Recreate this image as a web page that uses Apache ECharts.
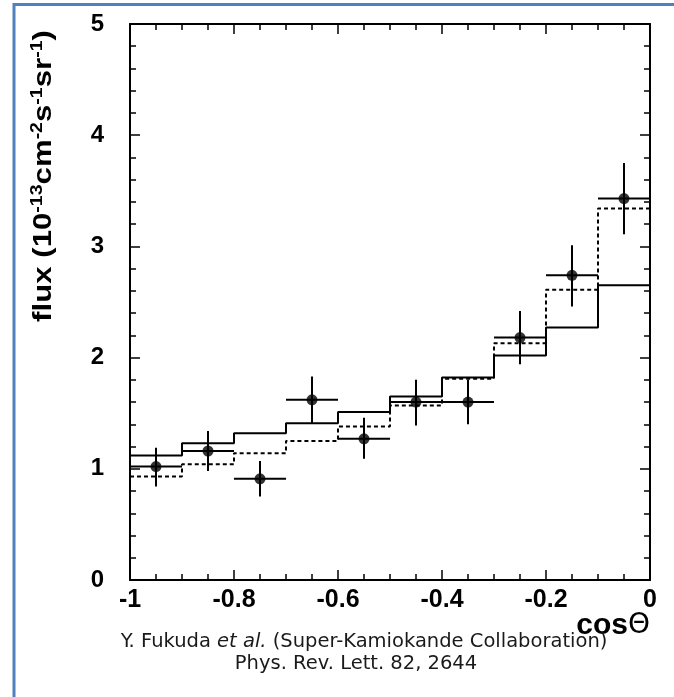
<!DOCTYPE html>
<html>
<head>
<meta charset="utf-8">
<script src="https://cdn.jsdelivr.net/npm/echarts@6/dist/echarts.min.js"></script>
<style>
html,body{margin:0;padding:0;background:#fff;}
#chart{width:674px;height:697px;}
</style>
</head>
<body>
<div id="chart"></div>
<script>
// ---- data ----
const binEdges   = [-1.0, -0.9, -0.8, -0.7, -0.6, -0.5, -0.4, -0.3, -0.2, -0.1, 0.0];
const solidMC    = [1.12, 1.23, 1.32, 1.41, 1.51, 1.65, 1.82, 2.02, 2.27, 2.65];
const dashedMC   = [0.93, 1.04, 1.14, 1.25, 1.38, 1.57, 1.81, 2.13, 2.61, 3.34];
const dataFlux   = [1.02, 1.16, 0.91, 1.62, 1.27, 1.60, 1.60, 2.18, 2.74, 3.43];
const errHigh    = [1.19, 1.34, 1.07, 1.83, 1.46, 1.80, 1.80, 2.42, 3.01, 3.75];
const errLow     = [0.84, 0.98, 0.75, 1.41, 1.09, 1.39, 1.40, 1.94, 2.46, 3.11];
const xTicks     = [-1, -0.8, -0.6, -0.4, -0.2, 0];
const yTicks     = [0, 1, 2, 3, 4, 5];

// ---- build series data ----
function stepData(vals){
  const d = vals.map((v,i)=>[binEdges[i], v]);
  d.push([binEdges[binEdges.length-1], vals[vals.length-1]]);
  return d;
}
const centers = dataFlux.map((_,i)=>(binEdges[i]+binEdges[i+1])/2);
const pts = dataFlux.map((v,i)=>[centers[i], v]);
const errData = dataFlux.map((v,i)=>[centers[i], v, errLow[i], errHigh[i], binEdges[i], binEdges[i+1]]);

const chart = echarts.init(document.getElementById('chart'), null, {renderer:'canvas'});
const labelFont = '"Liberation Sans", Arial, sans-serif';
const capFont = '"DejaVu Sans", sans-serif';

function axisCommon(extra){
  return Object.assign({
    type:'value',
    splitLine:{show:false},
    axisLine:{show:true, onZero:false, lineStyle:{color:'#000', width:2}},
    axisTick:{show:true, inside:true, length:10, lineStyle:{color:'#000', width:1.5}},
    minorTick:{show:true, length:6, lineStyle:{color:'#000', width:1.5}},
  }, extra);
}

const option = {
  backgroundColor:'#fff',
  animation:false,
  grid:{left:130, right:24, top:24, bottom:117, containLabel:false},
  xAxis:[
    axisCommon({position:'bottom', min:xTicks[0], max:xTicks[xTicks.length-1], interval:0.2,
      minorTick:{show:true, splitNumber:4, length:6, lineStyle:{color:'#000', width:1.5}},
      axisLabel:{show:true, color:'#000', fontSize:25, fontWeight:'bold', fontFamily:labelFont, margin:8,
        showMinLabel:true, showMaxLabel:true}}),
    axisCommon({position:'top', min:xTicks[0], max:xTicks[xTicks.length-1], interval:0.2,
      minorTick:{show:true, splitNumber:4, length:6, lineStyle:{color:'#000', width:1.5}},
      axisLabel:{show:false}})
  ],
  yAxis:[
    axisCommon({position:'left', min:yTicks[0], max:yTicks[yTicks.length-1], interval:1,
      minorTick:{show:true, splitNumber:5, length:6, lineStyle:{color:'#000', width:1.5}},
      axisLabel:{show:true, color:'#000', fontSize:24, fontWeight:'bold', fontFamily:labelFont, margin:26}}),
    axisCommon({position:'right', min:yTicks[0], max:yTicks[yTicks.length-1], interval:1,
      minorTick:{show:true, splitNumber:5, length:6, lineStyle:{color:'#000', width:1.5}},
      axisLabel:{show:false}})
  ],
  series:[
    {type:'line', name:'MC solid', data:stepData(solidMC), step:'end', symbol:'none',
      lineStyle:{color:'#000', width:2}, z:3},
    {type:'line', name:'MC dashed', data:stepData(dashedMC), step:'end', symbol:'none',
      lineStyle:{color:'#000', width:2, type:[4,3]}, z:3},
    {type:'custom', name:'errors', data:errData, z:4,
      renderItem:function(params, api){
        const x = api.value(0), y = api.value(1), lo = api.value(2), hi = api.value(3);
        const x0 = api.value(4), x1 = api.value(5);
        const pTop = api.coord([x, hi]), pBot = api.coord([x, lo]);
        const pL = api.coord([x0, y]), pR = api.coord([x1, y]);
        return {type:'group', children:[
          {type:'line', shape:{x1:pTop[0], y1:pTop[1], x2:pBot[0], y2:pBot[1]}, style:{stroke:'#000', lineWidth:2}},
          {type:'line', shape:{x1:pL[0], y1:pL[1], x2:pR[0], y2:pR[1]}, style:{stroke:'#000', lineWidth:2}}
        ]};
      }},
    {type:'scatter', name:'data', data:pts, symbol:'circle', symbolSize:11,
      itemStyle:{color:'#000'}, z:5}
  ],
  graphic:[
    {type:'rect', silent:true, z:-1, shape:{x:14, y:4.5, width:720, height:800},
      style:{fill:'none', stroke:'#4f81bd', lineWidth:3}},
    {type:'text', x:43, y:176, rotation:Math.PI/2, scaleX:1.3, scaleY:1.05,
      style:{
        text:'{b|flux (10}{s|-13}{b|cm}{s|-2}{b|s}{s|-1}{b|sr}{s|-1}{b|)}',
        align:'center', verticalAlign:'middle', fill:'#000',
        rich:{
          b:{fontSize:24, fontWeight:'bold', fontFamily:labelFont, fill:'#000', lineHeight:26, verticalAlign:'bottom'},
          s:{fontSize:15, fontWeight:'bold', fontFamily:labelFont, fill:'#000', lineHeight:26, verticalAlign:'top', padding:[0,0,10,0]}
        }
      }},
    {type:'text', x:650, y:626,
      style:{
        text:'{b|cos}{t|Θ}', align:'right', verticalAlign:'middle',
        rich:{
          b:{fontSize:30, fontWeight:'bold', fontFamily:labelFont, fill:'#000'},
          t:{fontSize:28, fontWeight:'normal', fontFamily:capFont, fill:'#000'}
        }
      }},
    {type:'text', x:364, y:642,
      style:{
        text:'{n|Y. Fukuda }{i|et al.}{n| (Super-Kamiokande Collaboration)}', align:'center', verticalAlign:'middle',
        rich:{
          n:{fontSize:19.5, fontFamily:capFont, fill:'#1a1a1a'},
          i:{fontSize:19.5, fontStyle:'italic', fontFamily:capFont, fill:'#1a1a1a'}
        }
      }},
    {type:'text', x:356, y:664,
      style:{text:'Phys. Rev. Lett. 82, 2644', align:'center', verticalAlign:'middle',
        fontSize:19.5, fontFamily:capFont, fill:'#1a1a1a'}}
  ]
};
chart.setOption(option);
</script>
</body>
</html>
